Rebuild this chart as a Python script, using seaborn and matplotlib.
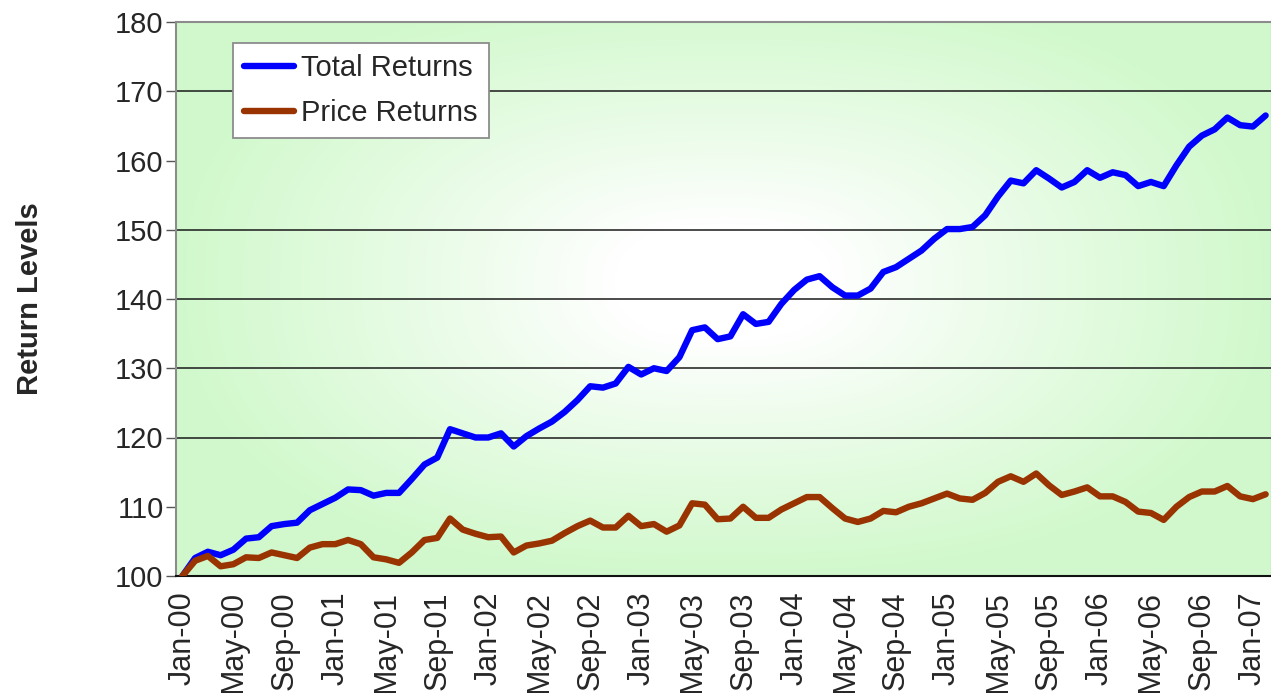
import numpy as np
import pandas as pd
import matplotlib
matplotlib.use("Agg")
import matplotlib.pyplot as plt
import seaborn as sns
from matplotlib.lines import Line2D

# ---------------- data ----------------
months = list(pd.date_range("2000-01-01", periods=86, freq="MS").strftime("%b-%y"))

total_returns = [
    100.0, 102.6, 103.5, 103.0, 103.8, 105.4, 105.6, 107.2, 107.5, 107.7,
    109.5, 110.4, 111.3, 112.5, 112.4, 111.6, 112.0, 112.0, 114.0, 116.1,
    117.1, 121.2, 120.6, 120.0, 120.0, 120.6, 118.7, 120.2, 121.3, 122.3,
    123.7, 125.4, 127.4, 127.2, 127.8, 130.2, 129.1, 130.0, 129.6, 131.6,
    135.5, 135.9, 134.2, 134.6, 137.8, 136.4, 136.7, 139.3, 141.3, 142.8,
    143.3, 141.7, 140.5, 140.5, 141.5, 143.9, 144.6, 145.8, 147.0, 148.7,
    150.1, 150.1, 150.4, 152.1, 154.8, 157.1, 156.7, 158.6, 157.4, 156.1,
    156.9, 158.6, 157.5, 158.3, 157.9, 156.3, 156.9, 156.3, 159.3, 162.0,
    163.6, 164.5, 166.2, 165.1, 164.9, 166.5,
]

price_returns = [
    100.0, 102.2, 102.9, 101.4, 101.7, 102.7, 102.6, 103.4, 103.0, 102.6,
    104.1, 104.6, 104.6, 105.2, 104.6, 102.7, 102.4, 101.9, 103.4, 105.2,
    105.5, 108.3, 106.7, 106.1, 105.6, 105.7, 103.4, 104.4, 104.7, 105.1,
    106.2, 107.2, 108.0, 107.0, 107.0, 108.7, 107.2, 107.5, 106.4, 107.3,
    110.5, 110.3, 108.2, 108.3, 110.0, 108.4, 108.4, 109.6, 110.5, 111.4,
    111.4, 109.8, 108.3, 107.8, 108.3, 109.4, 109.2, 110.0, 110.5, 111.2,
    111.9, 111.2, 111.0, 112.0, 113.6, 114.4, 113.6, 114.8, 113.1, 111.7,
    112.2, 112.8, 111.5, 111.5, 110.7, 109.3, 109.1, 108.1, 110.0, 111.4,
    112.2, 112.2, 113.0, 111.5, 111.1, 111.8,
]

series_names = ["Total Returns", "Price Returns"]
series_colors = ["#0000FF", "#993300"]
y_ticks = [100, 110, 120, 130, 140, 150, 160, 170, 180]
grid_levels = [120, 130, 140, 150, 170]   # gridlines visible in the reference
tick_step = 4

# ---------------- frame ----------------
n = len(months)
df = pd.DataFrame({
    "month": list(range(n)) * 2,
    "value": total_returns + price_returns,
    "series": [series_names[0]] * n + [series_names[1]] * n,
})

sns.set_theme(style="white")
plt.rcParams["font.family"] = ["Liberation Sans", "DejaVu Sans"]
plt.rcParams["axes.grid"] = False

fig = plt.figure(figsize=(12.71, 6.93), dpi=100)
fig.patch.set_facecolor("white")
ax = fig.add_axes([176 / 1271, 1 - 576 / 693, (1272 - 176) / 1271, (576 - 22) / 693])

# gradient background (white centre -> light green edges)
H, W = 300, 600
yy, xx = np.mgrid[0:H, 0:W]
dx = (xx / (W - 1) - 0.5) / 0.5
dy = (yy / (H - 1) - 0.47) / 0.53
p = 2.5
t = (np.abs(dx) ** p + np.abs(dy) ** p) ** (1 / p)
t = np.clip((t - 0.2) / 0.8, 0, 1) ** 0.9
green = np.array([0.82, 0.975, 0.80])
white = np.array([1.0, 1.0, 1.0])
img = white[None, None, :] * (1 - t[..., None]) + green[None, None, :] * t[..., None]
ax.imshow(img, extent=[0, 1, 0, 1], transform=ax.transAxes, aspect="auto",
          zorder=0, interpolation="bilinear")

ax.hlines(grid_levels, -0.5, n - 0.5, colors="#1a1a1a", linewidth=1.1, zorder=1)

sns.lineplot(data=df, x="month", y="value", hue="series", hue_order=series_names,
             palette=series_colors, linewidth=4.6, ax=ax, legend=False, zorder=3,
             sort=False)
for ln in ax.lines:
    ln.set_solid_joinstyle("round")
    ln.set_solid_capstyle("round")

ax.set_xlim(-0.5, n - 0.5)
ax.set_ylim(100, 180)
ax.grid(False)

ax.set_yticks(y_ticks)
ax.set_yticklabels([str(v) for v in y_ticks], fontsize=21)
xt = list(range(0, n, tick_step))
ax.set_xticks(xt)
ax.set_xticklabels([months[i] for i in xt], rotation=90, fontsize=22)
ax.tick_params(axis="y", length=7, width=1.0, color="#555555", pad=2, direction="out", left=True)
ax.tick_params(axis="x", length=0, pad=11)

ax.set_xlabel("")
ax.set_ylabel("Return Levels", fontsize=21, fontweight="bold", labelpad=51)

for side in ["left", "top", "right"]:
    ax.spines[side].set_color("#8c8c8c")
    ax.spines[side].set_linewidth(1.5)
ax.spines["bottom"].set_color("#111111")
ax.spines["bottom"].set_linewidth(1.5)

handles = [Line2D([0], [0], color=c, lw=4.6, solid_capstyle="round") for c in series_colors]
leg = ax.legend(handles, series_names, loc="upper left", bbox_to_anchor=(0.052, 0.962),
                borderaxespad=0, fontsize=21, frameon=True, fancybox=False,
                handlelength=1.7, handletextpad=0.25, labelspacing=0.58,
                borderpad=0.38)
leg.get_frame().set_edgecolor("#8c8c8c")
leg.get_frame().set_linewidth(1.3)
leg.get_frame().set_facecolor("white")
leg.get_frame().set_alpha(1)
leg.set_zorder(5)

fig.savefig("out.png", dpi=100)
